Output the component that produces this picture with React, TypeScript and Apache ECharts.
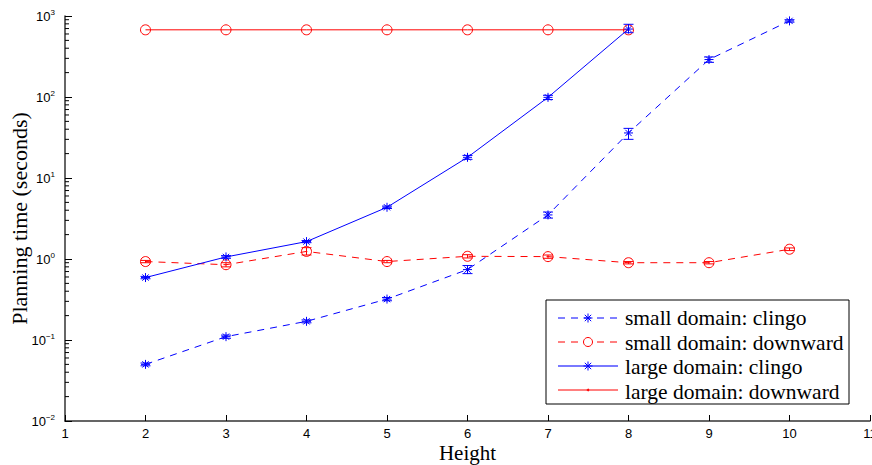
import React, { useEffect, useRef } from "react";
import * as echarts from "echarts";

const heights = [2, 3, 4, 5, 6, 7, 8, 9, 10];
const smallClingo = [0.05, 0.11, 0.17, 0.32, 0.74, 3.5, 36, 290, 870];
const smallClingoLow = [0.048, 0.105, 0.163, 0.305, 0.66, 3.2, 30, 268, 840];
const smallClingoHigh = [0.052, 0.115, 0.177, 0.335, 0.83, 3.8, 41, 312, 900];
const smallDownward = [0.93, 0.85, 1.24, 0.93, 1.08, 1.07, 0.9, 0.9, 1.32];
const smallDownwardLow = [0.9, 0.8, 1.12, 0.9, 1.03, 1.02, 0.87, 0.87, 1.27];
const smallDownwardHigh = [0.96, 0.9, 1.38, 0.96, 1.13, 1.12, 0.93, 0.93, 1.37];
const largeHeights = [2, 3, 4, 5, 6, 7, 8];
const largeClingo = [0.59, 1.06, 1.64, 4.35, 18, 99, 690];
const largeClingoLow = [0.57, 1.02, 1.59, 4.2, 17, 93, 622];
const largeClingoHigh = [0.61, 1.1, 1.69, 4.5, 19, 105, 790];
const largeDownward = [675, 675, 675, 675, 675, 675, 675];
const legendNames = [
  "small domain: clingo",
  "small domain: downward",
  "large domain: clingo",
  "large domain: downward",
];
const xTicks = [1, 2, 3, 4, 5, 6, 7, 8, 9, 10, 11];
const yDecades = [-2, -1, 0, 1, 2, 3];

const BLUE = "#0000ff";
const RED = "#ff0000";
const STAR = "path://M5,0L5,10M0,5L10,5M1.5,1.5L8.5,8.5M1.5,8.5L8.5,1.5";

function pairs(xs: number[], ys: number[]) {
  return xs.map((x, i) => [x, ys[i]]);
}
function errData(xs: number[], lo: number[], hi: number[]) {
  return xs.map((x, i) => [x, lo[i], hi[i]]);
}

function errSeries(data: number[][], color: string) {
  return {
    type: "custom",
    silent: true,
    data,
    encode: { x: 0, y: [1, 2] },
    renderItem: (params: any, api: any) => {
      const x = api.value(0);
      const lo = api.coord([x, api.value(1)]);
      const hi = api.coord([x, api.value(2)]);
      const w = 5;
      const st = { stroke: color, lineWidth: 1, fill: "none" };
      return {
        type: "group",
        children: [
          { type: "line", shape: { x1: lo[0], y1: lo[1], x2: hi[0], y2: hi[1] }, style: st },
          { type: "line", shape: { x1: lo[0] - w, y1: lo[1], x2: lo[0] + w, y2: lo[1] }, style: st },
          { type: "line", shape: { x1: hi[0] - w, y1: hi[1], x2: hi[0] + w, y2: hi[1] }, style: st },
        ],
      };
    },
    z: 3,
  };
}

// minor tick values of the log axis (2..9 x 10^n)
const minorTicks: number[] = [];
for (let e = -2; e < 3; e++) for (let k = 2; k <= 9; k++) minorTicks.push(k * Math.pow(10, e));

function starGraphic(cx: number, cy: number, color: string) {
  const r = 4.5;
  const d = 3.2;
  const st = { stroke: color, lineWidth: 1 };
  return {
    type: "group",
    children: [
      { type: "line", shape: { x1: cx, y1: cy - r, x2: cx, y2: cy + r }, style: st },
      { type: "line", shape: { x1: cx - r, y1: cy, x2: cx + r, y2: cy }, style: st },
      { type: "line", shape: { x1: cx - d, y1: cy - d, x2: cx + d, y2: cy + d }, style: st },
      { type: "line", shape: { x1: cx - d, y1: cy + d, x2: cx + d, y2: cy - d }, style: st },
    ],
  };
}

export default function App() {
  const ref = useRef<HTMLDivElement>(null);
  useEffect(() => {
    if (!ref.current) return;
    const chart = echarts.init(ref.current, null, { renderer: "svg" });
    const lx1 = 558;
    const lx2 = 618;
    const rows = [318, 342, 366, 390];
    const dash = [7, 6];
    const legendBox: any[] = [
      {
        type: "rect",
        shape: { x: 546, y: 300, width: 303, height: 104 },
        style: { fill: "#fff", stroke: "#000", lineWidth: 1 },
      },
      { type: "line", shape: { x1: lx1, y1: rows[0], x2: lx2, y2: rows[0] }, style: { stroke: BLUE, lineWidth: 1, lineDash: dash } },
      starGraphic((lx1 + lx2) / 2, rows[0], BLUE),
      { type: "line", shape: { x1: lx1, y1: rows[1], x2: lx2, y2: rows[1] }, style: { stroke: RED, lineWidth: 1, lineDash: dash } },
      { type: "circle", shape: { cx: (lx1 + lx2) / 2, cy: rows[1], r: 4.5 }, style: { fill: "#fff", stroke: RED, lineWidth: 1 } },
      { type: "line", shape: { x1: lx1, y1: rows[2], x2: lx2, y2: rows[2] }, style: { stroke: BLUE, lineWidth: 1.5, opacity: 0.7 } },
      starGraphic((lx1 + lx2) / 2, rows[2], BLUE),
      { type: "line", shape: { x1: lx1, y1: rows[3], x2: lx2, y2: rows[3] }, style: { stroke: RED, lineWidth: 1 } },
      { type: "circle", shape: { cx: (lx1 + lx2) / 2, cy: rows[3], r: 1 }, style: { fill: RED, stroke: RED, lineWidth: 0.5 } },
    ];

    chart.setOption({
      animation: false,
      backgroundColor: "#fff",
      grid: { left: 65, right: 2, top: 16, bottom: 44, containLabel: false, outerBoundsMode: "none" },
      legend: {
        orient: "vertical",
        left: 560,
        top: 307.25,
        padding: 0,
        itemWidth: 60,
        itemHeight: 14,
        itemGap: 2.5,
        selectedMode: false,
        data: legendNames.map((n) => ({
          name: n,
          icon: "rect",
          itemStyle: { color: "rgba(0,0,0,0)", borderWidth: 0 },
        })),
        textStyle: { fontFamily: "Liberation Serif", fontSize: 21.5, color: "#000", padding: [0, 0, 0, 0] },
        z: 200,
      },
      xAxis: {
        type: "value",
        min: xTicks[0],
        max: xTicks[xTicks.length - 1],
        interval: 1,
        name: "Height",
        nameLocation: "middle",
        nameGap: 21,
        nameMoveOverlap: false,
        nameTextStyle: { fontFamily: "Liberation Serif", fontSize: 21, color: "#000" },
        axisLine: { lineStyle: { color: "#333", width: 1.5 } },
        axisTick: { inside: true, length: 6, lineStyle: { color: "#000" } },
        axisLabel: { color: "#000", fontFamily: "Liberation Sans", fontSize: 13, margin: 6 },
        splitLine: { show: false },
      },
      yAxis: {
        type: "log",
        logBase: 10,
        min: Math.pow(10, yDecades[0]),
        max: Math.pow(10, yDecades[yDecades.length - 1]),
        name: "Planning time (seconds)",
        nameLocation: "middle",
        nameGap: 35,
        nameMoveOverlap: false,
        nameTextStyle: { fontFamily: "Liberation Serif", fontSize: 22, color: "#000" },
        axisLine: { show: true, lineStyle: { color: "#333", width: 1.5 } },
        axisTick: { inside: true, length: 7, lineStyle: { color: "#000" } },
        axisLabel: {
          margin: 10,
          formatter: (v: number) => {
            const e = Math.round(Math.log10(v));
            return `{b|10}{s|${e < 0 ? "\u2212" + -e : e}}`;
          },
          rich: {
            b: { fontFamily: "Liberation Sans", fontSize: 13, color: "#000" },
            s: { fontFamily: "Liberation Sans", fontSize: 8, color: "#000", padding: [0, 0, 8, 0] },
          },
        },
        splitLine: { show: false },
      },
      series: [
        {
          name: legendNames[0],
          type: "line",
          data: pairs(heights, smallClingo),
          symbol: STAR,
          symbolSize: 9,
          lineStyle: { color: BLUE, width: 1, type: [7, 6] },
          itemStyle: { color: BLUE, borderColor: BLUE, borderWidth: 1 },
          z: 2,
        },
        {
          name: legendNames[1],
          type: "line",
          data: pairs(heights, smallDownward),
          symbol: "circle",
          symbolSize: 10,
          lineStyle: { color: RED, width: 1, type: [7, 6] },
          itemStyle: { color: "rgba(255,255,255,0)", borderColor: RED, borderWidth: 1 },
          z: 2,
        },
        {
          name: legendNames[2],
          type: "line",
          data: pairs(largeHeights, largeClingo),
          symbol: STAR,
          symbolSize: 9,
          lineStyle: { color: BLUE, width: 1 },
          itemStyle: { color: BLUE, borderColor: BLUE, borderWidth: 1 },
          z: 2,
        },
        {
          name: legendNames[3],
          type: "line",
          data: pairs(largeHeights, largeDownward),
          symbol: "circle",
          symbolSize: 10,
          lineStyle: { color: RED, width: 1 },
          itemStyle: { color: "rgba(255,255,255,0)", borderColor: RED, borderWidth: 1 },
          z: 2,
        },
        errSeries(errData(heights, smallClingoLow, smallClingoHigh), BLUE),
        errSeries(errData(heights, smallDownwardLow, smallDownwardHigh), RED),
        errSeries(errData(largeHeights, largeClingoLow, largeClingoHigh), BLUE),
        {
          type: "custom",
          silent: true,
          data: minorTicks.map((v) => [xTicks[0], v]),
          encode: { x: 0, y: 1 },
          renderItem: (params: any, api: any) => {
            const p = api.coord([api.value(0), api.value(1)]);
            return {
              type: "line",
              shape: { x1: p[0], y1: p[1], x2: p[0] + 4, y2: p[1] },
              style: { stroke: "#000", lineWidth: 1 },
            };
          },
          z: 1,
        },
      ],
      graphic: [{ type: "group", children: legendBox, z: 100 }],
    });
    return () => chart.dispose();
  }, []);
  return (
    <div
      ref={ref}
      style={{ position: "fixed", left: 0, top: 0, width: 872, height: 465 }}
    />
  );
}
